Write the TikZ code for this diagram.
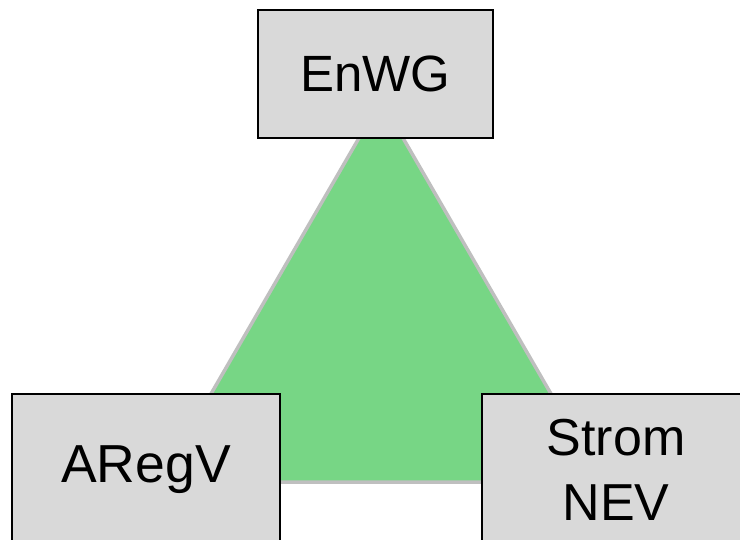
\documentclass[tikz,border=0pt]{standalone}
\usepackage{fontspec}
\setmainfont{Liberation Sans}
\definecolor{boxgray}{HTML}{D9D9D9}
\definecolor{leafgreen}{HTML}{77D685}
\definecolor{edgegray}{HTML}{BFBFBF}
\begin{document}
\begin{tikzpicture}[x=1pt,y=-1pt,
		law/.style={draw=black, line width=2pt, fill=boxgray, inner sep=0pt, align=center, font=\fontsize{52}{65}\selectfont}]

	\useasboundingbox (0,0) rectangle (740,539);
	\clip (0,0) rectangle (740,539);

	% Dreieck
	\coordinate (top) at (381,100);
	\coordinate (left) at (160,482);
	\coordinate (right) at (602,482);
	\draw[fill=leafgreen, draw=edgegray, line width=3.5pt] (top) -- (left) -- (right) -- cycle;

	% Gesetze
	\node[law, minimum width=235pt, minimum height=128pt, font=\fontsize{51}{65}\selectfont] (enwg) at (375.5,74) {EnWG};
	\node[law, minimum width=268pt, minimum height=152pt, font=\fontsize{53.5}{65}\selectfont] (aregv) at (146,470) {ARegV};
	\node[law, minimum width=268pt, minimum height=152pt] (stromnev) at (616,470) {Strom\\NEV};
\end{tikzpicture}
\end{document}
